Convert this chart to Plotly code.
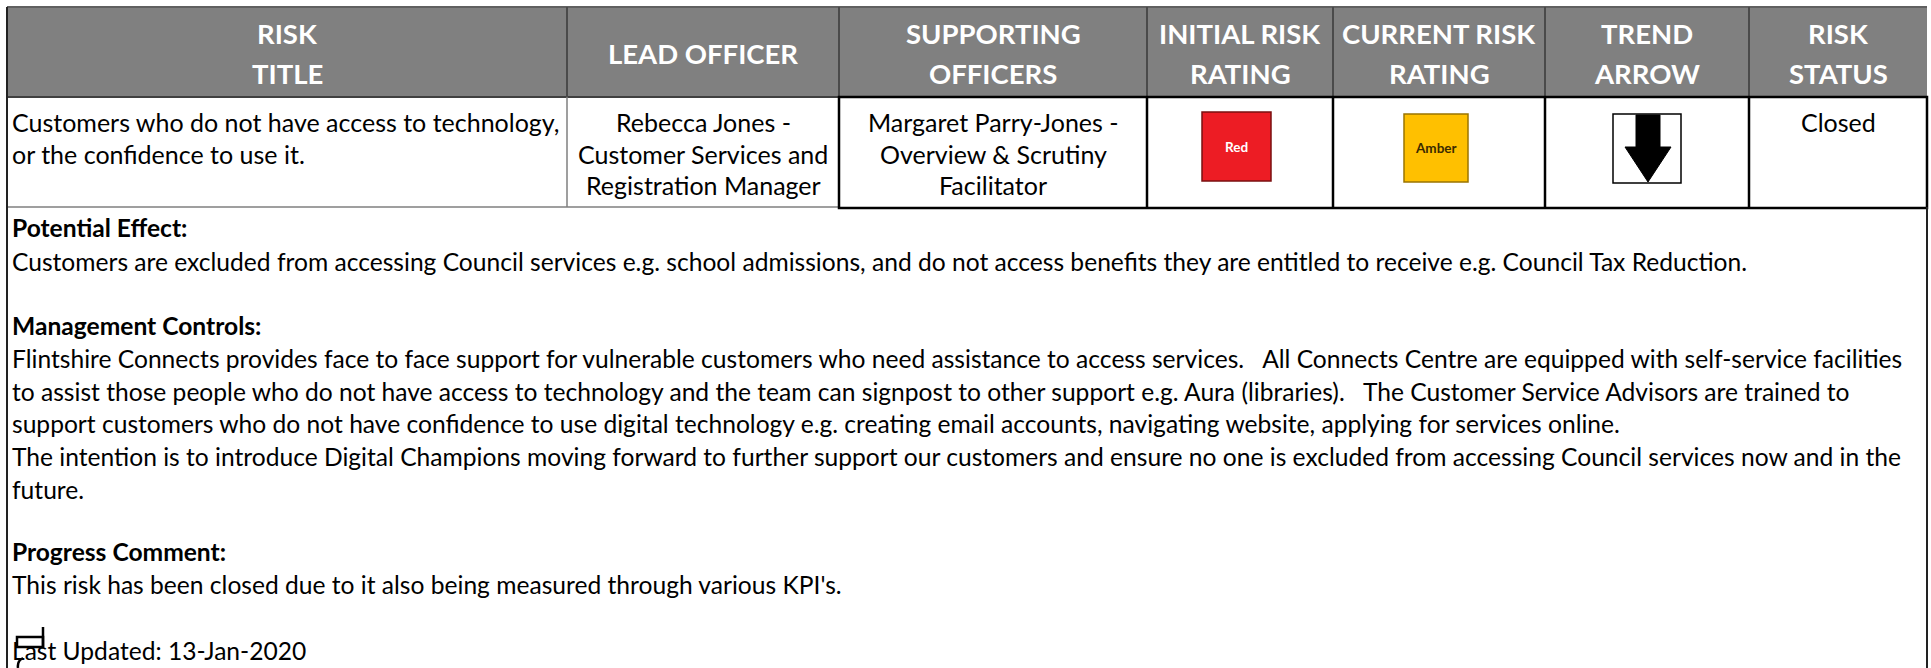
import plotly.graph_objects as go

# ---------------- data ----------------
headers = ["RISK<br>TITLE", "LEAD OFFICER", "SUPPORTING<br>OFFICERS",
           "INITIAL RISK<br>RATING", "CURRENT RISK<br>RATING", "TREND<br>ARROW", "RISK<br>STATUS"]
risk_title = ["Customers who do not have access to technology,", "or the confidence to use it."]
lead_officer = ["Rebecca Jones -", "Customer Services and", "Registration Manager"]
supporting_officers = ["Margaret Parry-Jones -", "Overview & Scrutiny", "Facilitator"]
initial_rating = "Red"
current_rating = "Amber"
trend = "down"
risk_status = "Closed"
detail_lines = [
    ("Potential Effect:", True),
    ("Customers are excluded from accessing Council services e.g. school admissions, and do not access benefits they are entitled to receive e.g. Council Tax Reduction.", False),
    ("Management Controls:", True),
    ("Flintshire Connects provides face to face support for vulnerable customers who need assistance to access services.   All Connects Centre are equipped with self-service facilities", False),
    ("to assist those people who do not have access to technology and the team can signpost to other support e.g. Aura (libraries).   The Customer Service Advisors are trained to", False),
    ("support customers who do not have confidence to use digital technology e.g. creating email accounts, navigating website, applying for services online.", False),
    ("The intention is to introduce Digital Champions moving forward to further support our customers and ensure no one is excluded from accessing Council services now and in the", False),
    ("future.", False),
    ("Progress Comment:", True),
    ("This risk has been closed due to it also being measured through various KPI's.", False),
    ("Last Updated: 13-Jan-2020", False),
]

# ---------------- layout constants ----------------
W, H = 1931, 668
edges = [7, 567, 839, 1147, 1333, 1545, 1749, 1927]
head_top, head_bot, row_bot = 7, 97, 207
detail_y = [227, 261, 325, 358, 391, 423, 456, 489, 551, 584, 650]
FONT = "Lato"
BODY = 25
DETAIL = 24.6
HEAD = 27.5
rating_colors = {"Red": ("#ED1C24", "#7a1010", "white"), "Amber": ("#FFC000", "#9a7400", "#3b2a00")}

fig = go.Figure()
shapes, ann = [], []

# header background
shapes.append(dict(type="rect", x0=edges[0], x1=edges[-1], y0=head_top, y1=head_bot,
                   fillcolor="#808080", line=dict(width=0), layer="below"))
shapes.append(dict(type="line", x0=edges[0], x1=edges[-1], y0=head_top, y1=head_top,
                   line=dict(color="#606060", width=2)))
shapes.append(dict(type="line", x0=edges[0], x1=edges[-1], y0=head_bot, y1=head_bot,
                   line=dict(color="#404040", width=2)))
for e in edges[1:-1]:
    shapes.append(dict(type="line", x0=e, x1=e, y0=head_top, y1=head_bot,
                       line=dict(color="#4a4a4a", width=2)))
for i, h in enumerate(headers):
    parts = h.split("<br>")
    ys = [53] if len(parts) == 1 else [33, 73]
    for p, y in zip(parts, ys):
        ann.append(dict(x=(edges[i] + edges[i + 1]) / 2, y=y,
                        text="<b>" + p + "</b>", showarrow=False, xanchor="center", yanchor="middle",
                        font=dict(family=FONT, size=HEAD, color="white")))

# data row borders: grey for first two columns, black for the rest
shapes.append(dict(type="line", x0=edges[1], x1=edges[1], y0=head_bot, y1=row_bot,
                   line=dict(color="#7f7f7f", width=1.5)))
shapes.append(dict(type="line", x0=edges[0], x1=edges[2], y0=row_bot, y1=row_bot,
                   line=dict(color="#7f7f7f", width=1.5)))
shapes.append(dict(type="rect", x0=edges[2], x1=edges[-1], y0=head_bot, y1=row_bot + 1,
                   line=dict(color="black", width=2.5)))
for e in edges[3:-1]:
    shapes.append(dict(type="line", x0=e, x1=e, y0=head_bot, y1=row_bot,
                       line=dict(color="black", width=2.5)))
# outer borders of detail area
shapes.append(dict(type="line", x0=edges[0], x1=edges[0], y0=head_top, y1=H,
                   line=dict(color="#222222", width=2)))
shapes.append(dict(type="line", x0=edges[-1], x1=edges[-1], y0=row_bot, y1=H,
                   line=dict(color="#222222", width=2)))

# row text
for k, t in enumerate(risk_title):
    ann.append(dict(x=edges[0] + 3, y=122 + 31.5 * k, text=t, showarrow=False, xanchor="left",
                    yanchor="middle", font=dict(family=FONT, size=BODY, color="black")))
for k, t in enumerate(lead_officer):
    ann.append(dict(x=(edges[1] + edges[2]) / 2, y=122 + 31.5 * k, text=t, showarrow=False,
                    xanchor="center", yanchor="middle", font=dict(family=FONT, size=BODY, color="black")))
for k, t in enumerate(supporting_officers):
    ann.append(dict(x=(edges[2] + edges[3]) / 2, y=122 + 31.5 * k, text=t, showarrow=False,
                    xanchor="center", yanchor="middle", font=dict(family=FONT, size=BODY, color="black")))
ann.append(dict(x=(edges[6] + edges[7]) / 2, y=122, text=risk_status, showarrow=False,
                xanchor="center", yanchor="middle", font=dict(family=FONT, size=BODY, color="black")))

# rating boxes
for rating, (x0, x1, y0, y1) in [(initial_rating, (1202, 1271, 112, 181)),
                                 (current_rating, (1404, 1468, 114, 182))]:
    fill, border, tcol = rating_colors[rating]
    shapes.append(dict(type="rect", x0=x0, x1=x1, y0=y0, y1=y1, fillcolor=fill,
                       line=dict(color=border, width=1.5)))
    ann.append(dict(x=(x0 + x1) / 2, y=(y0 + y1) / 2, text="<b>" + rating + "</b>", showarrow=False,
                    xanchor="center", yanchor="middle", font=dict(family=FONT, size=13.5, color=tcol)))

# trend arrow
shapes.append(dict(type="rect", x0=1613, x1=1681, y0=114, y1=183, fillcolor="white",
                   line=dict(color="black", width=1.5)))
if trend == "down":
    shapes.append(dict(type="path",
                       path="M 1636 115 L 1660 115 L 1660 147 L 1671 147 L 1648 182 L 1625 147 L 1636 147 Z",
                       fillcolor="black", line=dict(color="black", width=1)))

# detail text
for (t, bold), y in zip(detail_lines, detail_y):
    ann.append(dict(x=edges[0] + 3, y=y, text=("<b>" + t + "</b>") if bold else t, showarrow=False,
                    xanchor="left", yanchor="middle", font=dict(family=FONT, size=DETAIL, color="black")))

# small drawing artefact over "Last"
shapes.append(dict(type="rect", x0=17, x1=43, y0=637, y1=647, line=dict(color="black", width=2.5)))
shapes.append(dict(type="line", x0=43, x1=43, y0=627, y1=647, line=dict(color="black", width=2.5)))
shapes.append(dict(type="path", path="M 23 658 Q 17 661 18 668", line=dict(color="black", width=2.5)))

fig.update_layout(
    width=W, height=H, margin=dict(l=0, r=0, t=0, b=0),
    paper_bgcolor="white", plot_bgcolor="white",
    xaxis=dict(range=[0, W], visible=False, fixedrange=True),
    yaxis=dict(range=[H, 0], visible=False, fixedrange=True),
    shapes=shapes, annotations=ann, showlegend=False,
)
fig.write_html("out.html", config={"displayModeBar": False},
               post_script="document.body.style.margin='0px';document.body.style.overflow='hidden';")
